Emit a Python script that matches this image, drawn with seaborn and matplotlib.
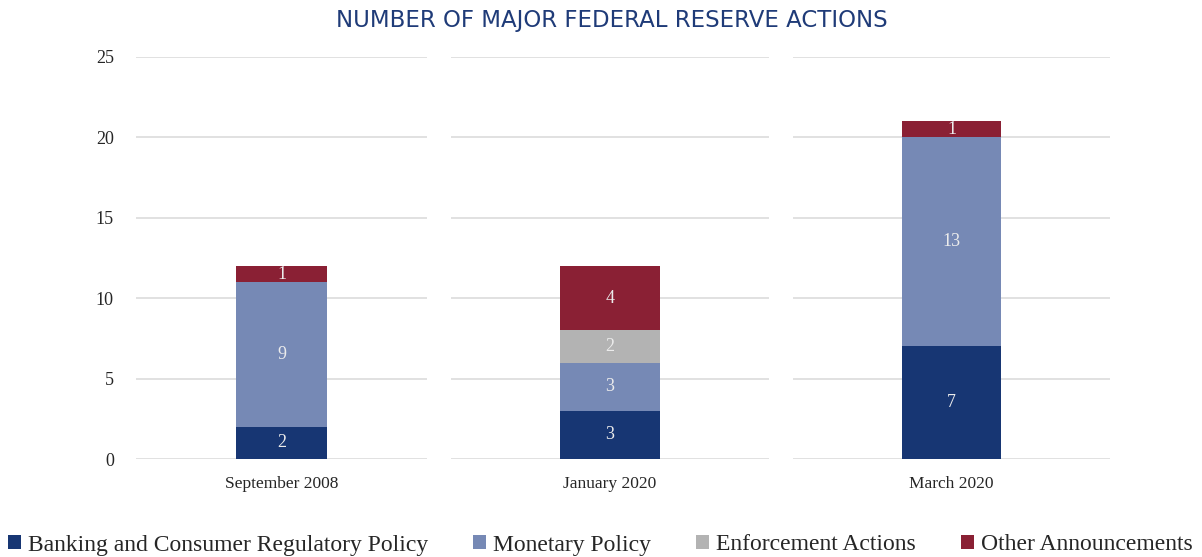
import matplotlib
matplotlib.use("Agg")
import matplotlib.pyplot as plt
from matplotlib.patches import Patch
import seaborn as sns
import pandas as pd
import numpy as np

categories = ["September 2008", "January 2020", "March 2020"]
series_names = ["Banking and Consumer Regulatory Policy", "Monetary Policy",
                "Enforcement Actions", "Other Announcements"]
banking = [2, 3, 7]
monetary = [9, 3, 13]
enforcement = [0, 2, 0]
other = [1, 4, 1]
y_ticks = [0, 5, 10, 15, 20, 25]
title = "NUMBER OF MAJOR FEDERAL RESERVE ACTIONS"

colors = ["#173673", "#7689b5", "#b3b3b3", "#8a2034"]
series_values = [banking, monetary, enforcement, other]

sns.set_theme(style="white")
plt.rcParams["font.family"] = ["Liberation Serif", "DejaVu Serif"]

fig = plt.figure(figsize=(12.02, 5.57), dpi=100)
W, H = 1202, 557
panels_px = [(136, 291), (451, 318), (793, 317)]
bottom = (H - 459) / H
height = 402 / H

for i, cat in enumerate(categories):
    left_px, w_px = panels_px[i]
    ax = fig.add_axes([left_px / W, bottom, w_px / W, height])
    vals = [s[i] for s in series_values]
    cums = np.cumsum(vals)
    # draw from top (cumulative total) down so lower segments overlay
    for k in range(len(vals) - 1, -1, -1):
        if vals[k] == 0:
            continue
        df = pd.DataFrame({"cat": [cat], "val": [cums[k]]})
        sns.barplot(data=df, x="cat", y="val", color=colors[k], width=0.315,
                    saturation=1, ax=ax, zorder=3, linewidth=0)
    for k in range(len(vals)):
        if vals[k] == 0:
            continue
        ax.text(0, cums[k] - vals[k] / 2, str(vals[k]), ha="center", va="center",
                color="#ececec", fontsize=13, zorder=5)
    ax.set_ylim(0, 25)
    ax.set_xlim(-0.5, 0.5)
    ax.set_yticks(y_ticks)
    ax.yaxis.grid(True, color="#d9d9d9", linewidth=1.1, zorder=0)
    ax.set_axisbelow(True)
    for sp in ax.spines.values():
        sp.set_visible(False)
    ax.set_xlabel("")
    ax.set_ylabel("")
    ax.tick_params(axis="both", length=0, colors="#262626")
    ax.tick_params(axis="x", labelsize=12.5, pad=12)
    ax.tick_params(axis="y", labelsize=13, pad=16)
    if i > 0:
        ax.set_yticklabels([])

fig.text(612 / W, 1 - 21 / H, title, ha="center", va="center",
         fontsize=16.5, color="#1f3b78", family=["DejaVu Sans"])

handles = [Patch(facecolor=c, edgecolor="none") for c in colors]
fig.legend(handles, series_names, loc="center left", bbox_to_anchor=(8 / W, 12 / H),
           ncol=4, frameon=False, fontsize=17, handlelength=0.55, handleheight=0.55,
           handletextpad=0.3, columnspacing=1.9, borderpad=0, borderaxespad=0,
           labelcolor="#262626")

fig.savefig("out.png", dpi=100)
